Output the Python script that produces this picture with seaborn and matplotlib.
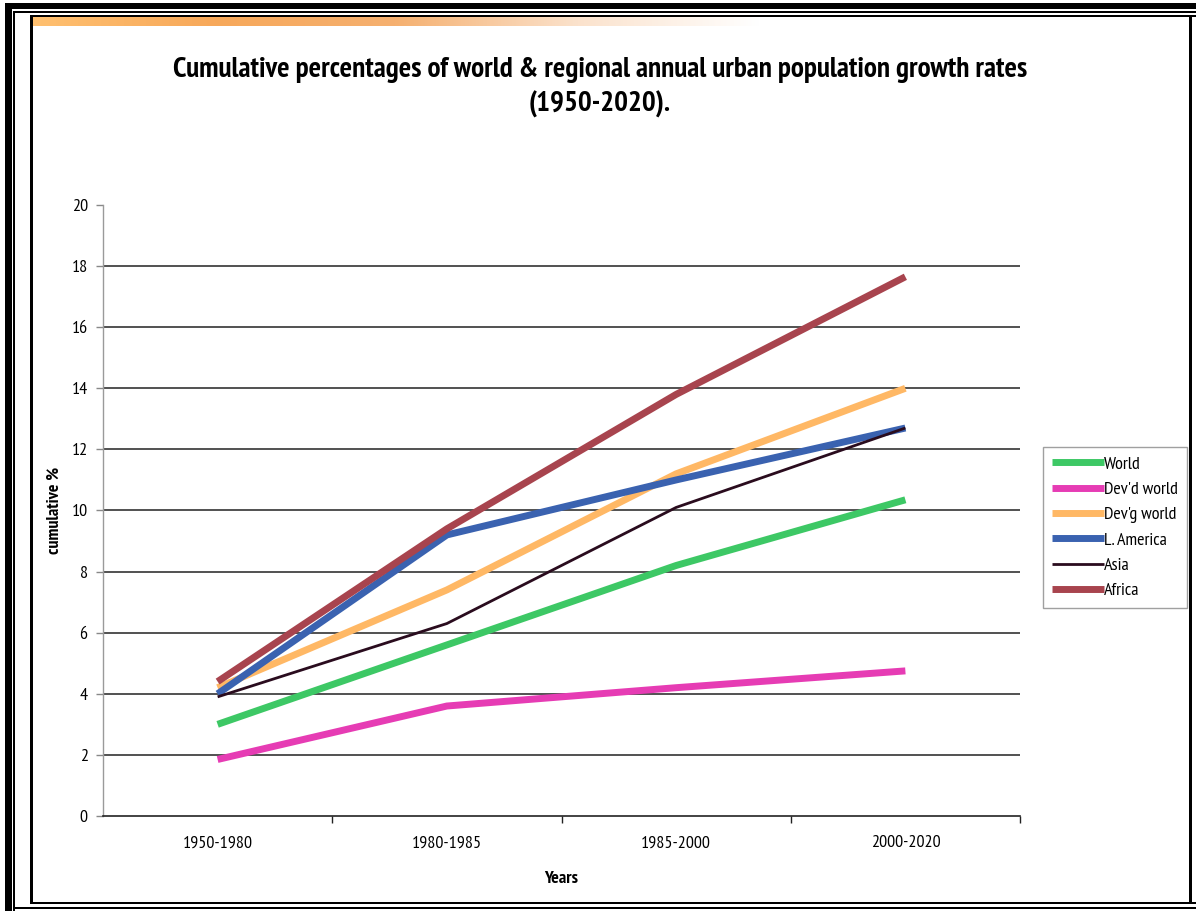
import matplotlib
matplotlib.use("Agg")
import matplotlib.pyplot as plt
import matplotlib.font_manager as fm
from matplotlib.patches import Rectangle
from matplotlib.colors import LinearSegmentedColormap
import numpy as np
import pandas as pd
import seaborn as sns

# --- data -------------------------------------------------------------
periods = ["1950-1980", "1980-1985", "1985-2000", "2000-2020"]
world = [3.0, 5.6, 8.2, 10.35]
devd_world = [1.85, 3.6, 4.2, 4.75]
devg_world = [4.2, 7.4, 11.2, 14.0]
l_america = [4.0, 9.2, 11.0, 12.7]
asia = [3.9, 6.3, 10.1, 12.7]
africa = [4.4, 9.4, 13.8, 17.65]

series_names = ["World", "Dev'd world", "Dev'g world", "L. America", "Asia", "Africa"]
series_values = [world, devd_world, devg_world, l_america, asia, africa]
y_ticks = [0, 2, 4, 6, 8, 10, 12, 14, 16, 18, 20]

colors = {
    "World": "#3dc865",
    "Dev'd world": "#e63cb4",
    "Dev'g world": "#ffb865",
    "L. America": "#3a62b0",
    "Asia": "#2a0c1e",
    "Africa": "#a8444e",
}
widths = {
    "World": 5.0,
    "Dev'd world": 5.0,
    "Dev'g world": 5.0,
    "L. America": 5.0,
    "Asia": 2.0,
    "Africa": 5.0,
}

rows = []
for name, vals in zip(series_names, series_values):
    for p, v in zip(periods, vals):
        rows.append({"Period": p, "Value": v, "Series": name})
df = pd.DataFrame(rows)

# --- style ------------------------------------------------------------
sns.set_theme(style="white")


def _weight(w):
    if isinstance(w, (int, float)):
        return int(w)
    return {"normal": 400, "regular": 400, "book": 400, "medium": 500,
            "semibold": 600, "demibold": 600, "bold": 700, "heavy": 800,
            "extra bold": 800, "black": 900}.get(str(w).lower(), 400)


# a narrow family that has both a regular and a bold face
faces = {}
for f in fm.fontManager.ttflist:
    if "Narrow" in f.name or "Condensed" in f.name:
        faces.setdefault(f.name, set()).add((_weight(f.weight), f.style))
narrow_family = None
for name in sorted(faces, key=lambda n: (0 if "Narrow" in n else 1, n)):
    ws = {w for w, s in faces[name] if s == "normal"}
    if 400 in ws and any(w >= 600 for w in ws):
        narrow_family = name
        break
if narrow_family is not None:
    plt.rcParams["font.family"] = [narrow_family, "DejaVu Sans"]
else:
    plt.rcParams["font.family"] = ["DejaVu Sans"]
    plt.rcParams["font.stretch"] = "condensed"
plt.rcParams["text.color"] = "black"
plt.rcParams["axes.labelcolor"] = "black"
plt.rcParams["xtick.color"] = "black"
plt.rcParams["ytick.color"] = "black"

W, H = 1196, 911
fig = plt.figure(figsize=(W / 100, H / 100), dpi=100)

ax = fig.add_axes([103 / W, 1 - 816 / H, (1020 - 103) / W, (816 - 205) / H])

for y in y_ticks[1:-1]:
    ax.axhline(y, color="#222222", lw=1.1, zorder=0)

sns.lineplot(data=df, x="Period", y="Value", hue="Series", size="Series",
             sizes=widths, palette=colors, hue_order=series_names,
             sort=False, ax=ax, legend=False, zorder=3)
for line in ax.get_lines()[-len(series_names):]:
    line.set_solid_capstyle("butt")
    line.set_solid_joinstyle("miter")

ax.set_xlim(-0.5, 3.5)
ax.set_ylim(0, 20)
ax.set_yticks(y_ticks)
ax.set_yticklabels([str(t) for t in y_ticks], fontsize=13)
ax.set_xticks(range(len(periods)))
ax.set_xticklabels(periods, fontsize=13)
ax.set_xticks([0.5, 1.5, 2.5, 3.5], minor=True)
ax.tick_params(axis="x", which="major", length=0, pad=14)
ax.tick_params(axis="x", which="minor", length=5, color="#222222", width=1, direction="out", bottom=True)
ax.tick_params(axis="y", length=5, color="#888888", width=1, direction="out", left=True, pad=6)

for s in ["top", "right"]:
    ax.spines[s].set_visible(False)
ax.spines["left"].set_color("#9a9a9a")
ax.spines["left"].set_linewidth(1.0)
ax.spines["bottom"].set_color("#222222")
ax.spines["bottom"].set_linewidth(1.2)

ax.set_xlabel("Years", fontsize=13, fontweight="bold", labelpad=14)
ax.set_ylabel("cumulative %", fontsize=13, fontweight="bold", labelpad=6)

# --- title ------------------------------------------------------------
fig.text(600 / W, 1 - 70 / H, "Cumulative percentages of world & regional annual urban population growth rates",
         ha="center", va="center", fontsize=21, fontweight="bold")
fig.text(600 / W, 1 - 104 / H, "(1950-2020).", ha="center", va="center", fontsize=21, fontweight="bold")

# --- legend -----------------------------------------------------------
handles = [plt.Line2D([], [], color=colors[n], lw=widths[n], solid_capstyle="butt") for n in series_names]
leg = fig.legend(handles, series_names, loc="upper left",
                 bbox_to_anchor=(1043 / W, 1 - 447 / H), fontsize=13,
                 handlelength=2.9, handletextpad=0.0, labelspacing=0.48,
                 frameon=True, fancybox=False, borderpad=0.5, borderaxespad=0)
leg.get_frame().set_edgecolor("#888888")
leg.get_frame().set_linewidth(1.0)

# --- page frame and header stripe -------------------------------------
ov = fig.add_axes([0, 0, 1, 1], zorder=-1)
ov.set_xlim(0, W)
ov.set_ylim(H, 0)
ov.axis("off")
stripe_cmap = LinearSegmentedColormap.from_list(
    "stripe", ["#ffc070", "#f7a85a", "#f5b070", "#fbe2cc", "#ffffff"])
grad = np.linspace(0, 1, 256).reshape(1, -1)
ov.imshow(grad, cmap=stripe_cmap, extent=(32, 760, 26, 17), aspect="auto", zorder=1)

fig_frame = fig.add_axes([0, 0, 1, 1], zorder=10)
fig_frame.set_xlim(0, W)
fig_frame.set_ylim(H, 0)
fig_frame.axis("off")
fig_frame.patch.set_alpha(0)
# outer heavy rule
fig_frame.add_patch(Rectangle((5, 3), 1240, 6, color="black", lw=0))
fig_frame.add_patch(Rectangle((5, 3), 7, 950, color="black", lw=0))
# thin outer rule
fig_frame.add_patch(Rectangle((13, 10.5), W, 2, color="black", lw=0))
fig_frame.add_patch(Rectangle((13, 10.5), 2, 900, color="black", lw=0))
fig_frame.add_patch(Rectangle((13, 906.5), W, 2.5, color="black", lw=0))
# inner rule
fig_frame.add_patch(Rectangle((30, 15), W, 2, color="black", lw=0))
fig_frame.add_patch(Rectangle((30, 15), 2.5, 889, color="black", lw=0))
fig_frame.add_patch(Rectangle((30, 901.5), W, 2.5, color="black", lw=0))
fig_frame.add_patch(Rectangle((1189, 15), 2.5, 889, color="black", lw=0))

fig.savefig("out.png", dpi=100, facecolor="white")
